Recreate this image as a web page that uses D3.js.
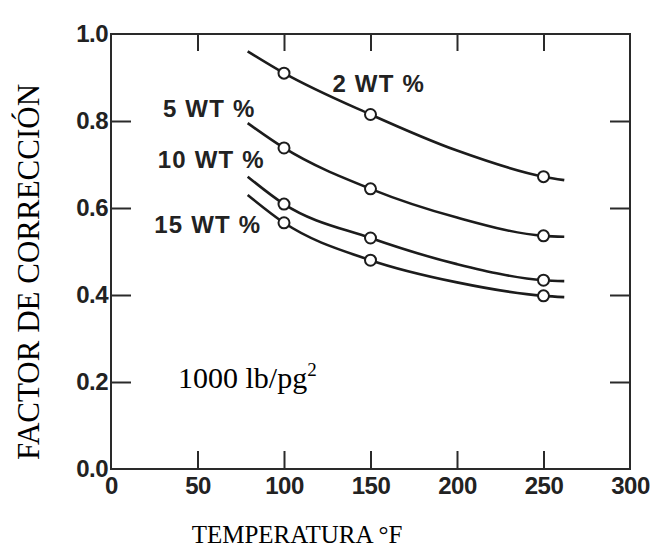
<!DOCTYPE html>
<html>
<head>
<meta charset="utf-8">
<script src="https://cdn.jsdelivr.net/npm/d3@7"></script>
<style>
  body { margin: 0; background: #fff; }
  svg { display: block; }
  .tick text { font-family: "Liberation Sans", Arial, sans-serif; font-weight: bold; font-size: 24px; fill: #222; letter-spacing: -0.5px; }
  .tick line { stroke: #2a2a2a; stroke-width: 2px; }
  .domain { display: none; }
</style>
</head>
<body>
<div id="chart"></div>
<script>
// data
var xTicks = [0, 50, 100, 150, 200, 250, 300];
var yTicks = [0, 0.2, 0.4, 0.6, 0.8, 1.0];
var seriesNames = ["2 WT %", "5 WT %", "10 WT %", "15 WT %"];
var curveTemps = [79, 100, 150, 200, 250, 262];
var curve2  = [0.960, 0.910, 0.815, 0.732, 0.672, 0.664];
var curve5  = [0.795, 0.738, 0.644, 0.578, 0.536, 0.534];
var curve10 = [0.672, 0.609, 0.531, 0.471, 0.434, 0.432];
var curve15 = [0.630, 0.566, 0.480, 0.429, 0.398, 0.395];
var markerTemps = [100, 150, 250];
var marker2  = [0.910, 0.815, 0.672];
var marker5  = [0.738, 0.644, 0.536];
var marker10 = [0.609, 0.531, 0.434];
var marker15 = [0.566, 0.480, 0.398];

var curves = [curve2, curve5, curve10, curve15];
var markers = [marker2, marker5, marker10, marker15];

// label placement (data coords of text start / baseline)
var labelPos = [[128, 0.867], [30, 0.809], [27, 0.692], [25, 0.543]];

var width = 653, height = 548;
var plot = {left: 111, right: 630, top: 34, bottom: 469};

var svg = d3.select("#chart").append("svg")
    .attr("width", width)
    .attr("height", height);

var x = d3.scaleLinear().domain([0, 300]).range([plot.left, plot.right]);
var y = d3.scaleLinear().domain([0, 1]).range([plot.bottom, plot.top]);

// bottom axis: inward ticks + labels
var xb = svg.append("g")
    .attr("transform", "translate(0," + plot.bottom + ")")
    .call(d3.axisBottom(x).tickValues(xTicks).tickSize(-18).tickPadding(8)
      .tickFormat(d3.format("d")));
xb.selectAll(".tick line").filter(function(d) { return d == 0 || d == 300; }).remove();
xb.selectAll(".tick text").attr("dy", "0.9em").attr("y", 3);

// top axis ticks only
svg.append("g")
    .attr("transform", "translate(0," + plot.top + ")")
    .call(d3.axisTop(x).tickValues(xTicks.slice(1, -1)).tickSize(-17).tickFormat(""));

// left axis
var yl = svg.append("g")
    .attr("transform", "translate(" + plot.left + ",0)")
    .call(d3.axisLeft(y).tickValues(yTicks).tickSize(-20).tickPadding(4)
      .tickFormat(d3.format(".1f")));
yl.selectAll(".tick line").filter(function(d) { return d == 0 || d == 1; }).remove();
yl.selectAll(".tick text").attr("x", -3).attr("dy", "0.3em");

// right axis ticks only
svg.append("g")
    .attr("transform", "translate(" + plot.right + ",0)")
    .call(d3.axisRight(y).tickValues(yTicks.slice(1, -1)).tickSize(-20).tickFormat(""));

// frame
svg.append("rect")
    .attr("x", plot.left)
    .attr("y", plot.top)
    .attr("width", plot.right - plot.left)
    .attr("height", plot.bottom - plot.top)
    .attr("fill", "none")
    .attr("stroke", "#2a2a2a")
    .attr("stroke-width", 2);

var line = d3.line()
    .x(function(d) { return x(d[0]); })
    .y(function(d) { return y(d[1]); })
    .curve(d3.curveMonotoneX);

curves.forEach(function(c, i) {
  var pts = curveTemps.map(function(t, j) { return [t, c[j]]; });
  svg.append("path")
      .attr("d", line(pts))
      .attr("fill", "none")
      .attr("stroke", "#1c1c1c")
      .attr("stroke-width", 2.6);
});

markers.forEach(function(m, i) {
  svg.selectAll(null)
    .data(markerTemps.map(function(t, j) { return [t, m[j]]; }))
    .enter().append("circle")
      .attr("cx", function(d) { return x(d[0]); })
      .attr("cy", function(d) { return y(d[1]); })
      .attr("r", 5.5)
      .attr("fill", "#fff")
      .attr("stroke", "#1c1c1c")
      .attr("stroke-width", 2);
});

seriesNames.forEach(function(name, i) {
  svg.append("text")
      .attr("x", x(labelPos[i][0]))
      .attr("y", y(labelPos[i][1]))
      .attr("font-family", "Liberation Sans, Arial, sans-serif")
      .attr("font-weight", "bold")
      .attr("font-size", 24)
      .attr("letter-spacing", 1.2)
      .attr("fill", "#222")
      .text(name);
});

// pressure note
var note = svg.append("text")
    .attr("x", 178)
    .attr("y", 388)
    .attr("font-family", "Liberation Serif, Times New Roman, serif")
    .attr("font-size", 30)
    .attr("fill", "#000")
    .text("1000 lb/pg");
note.append("tspan")
    .attr("dy", -12)
    .attr("font-size", 19)
    .text("2");

// axis titles
svg.append("text")
    .attr("transform", "translate(39,272) rotate(-90)")
    .attr("text-anchor", "middle")
    .attr("font-family", "Liberation Serif, Times New Roman, serif")
    .attr("font-size", 31)
    .attr("fill", "#000")
    .text("FACTOR DE CORRECCIÓN");

svg.append("text")
    .attr("x", 297)
    .attr("y", 543)
    .attr("text-anchor", "middle")
    .attr("font-family", "Liberation Serif, Times New Roman, serif")
    .attr("font-size", 25)
    .attr("fill", "#000")
    .text("TEMPERATURA °F");
</script>
</body>
</html>
